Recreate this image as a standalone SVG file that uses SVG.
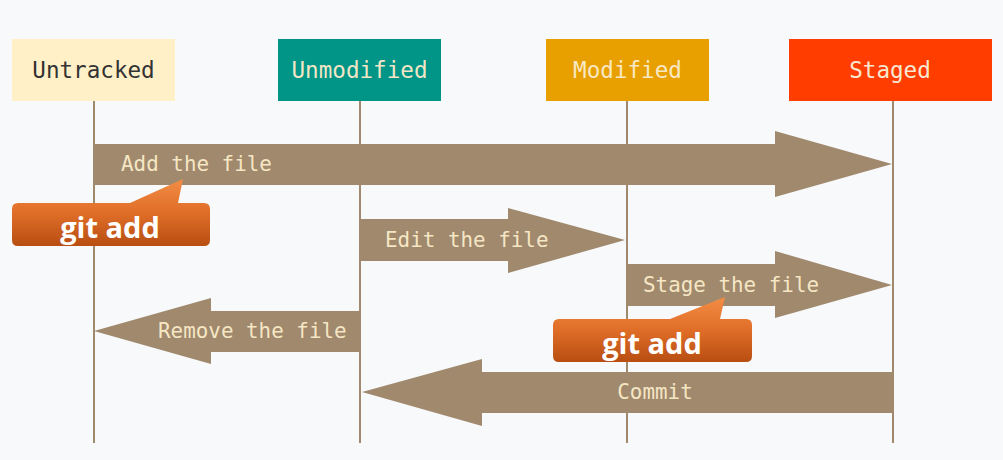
<svg xmlns="http://www.w3.org/2000/svg" width="1003" height="460" viewBox="0 0 1003 460">
<defs>
<linearGradient id="og" x1="0" y1="0" x2="0" y2="1">
<stop offset="0" stop-color="#F28D45"/>
<stop offset="0.5" stop-color="#E06E28"/>
<stop offset="1" stop-color="#B84E12"/>
</linearGradient>
<style>
.hdr{font-family:"DejaVu Sans Mono","Liberation Mono",monospace;font-size:22.6px;text-anchor:middle;dominant-baseline:central}
.lbl{font-family:"DejaVu Sans Mono","Liberation Mono",monospace;font-size:20.9px;fill:#F5E6C4;dominant-baseline:central}
.arrow{fill:#A0896D}
.life{stroke:#A0896D;stroke-width:2;fill:none}
.call{font-family:"Open Sans","Noto Sans",sans-serif;font-weight:bold;font-size:29px;fill:#FFFFFF;text-anchor:middle;dominant-baseline:central}
</style>
</defs>
<rect width="1003" height="460" fill="#F7F9FB"/>
<g id="lifelines">
<line class="life" x1="94" y1="101" x2="94" y2="443"/>
<line class="life" x1="360" y1="101" x2="360" y2="443"/>
<line class="life" x1="627" y1="101" x2="627" y2="443"/>
<line class="life" x1="893" y1="101" x2="893" y2="443"/>
</g>
<g id="untracked">
<rect x="12" y="39" width="163" height="62" fill="#FFF0C8"/>
<text class="hdr" x="93.5" y="70" fill="#333333">Untracked</text>
</g>
<g id="unmodified">
<rect x="278" y="39" width="163" height="62" fill="#009587"/>
<text class="hdr" x="359.5" y="70" fill="#F2E6C6">Unmodified</text>
</g>
<g id="modified">
<rect x="546" y="39" width="163" height="62" fill="#E8A000"/>
<text class="hdr" x="627.5" y="70" fill="#F8E8C4">Modified</text>
</g>
<g id="staged">
<rect x="789" y="39" width="203" height="62" fill="#FF3D00"/>
<text class="hdr" x="890" y="70" fill="#F8E8D0">Staged</text>
</g>
<g id="connectors">
<g id="add-file">
<polygon class="arrow" points="95,144 775,144 775,131 892,164 775,197 775,185 95,185"/>
<text class="lbl" x="121" y="164">Add the file</text>
</g>
<g id="edit-file">
<polygon class="arrow" points="361,219 508,219 508,208 625,240 508,273 508,261 361,261"/>
<text class="lbl" x="385" y="240">Edit the file</text>
</g>
<g id="stage-file">
<polygon class="arrow" points="628,264 775,264 775,251 892,285 775,318 775,306 628,306"/>
<text class="lbl" x="643" y="285">Stage the file</text>
</g>
<g id="remove-file">
<polygon class="arrow" points="359,311 211,311 211,298 94,331 211,364 211,352 359,352"/>
<text class="lbl" x="158" y="331">Remove the file</text>
</g>
<g id="commit">
<polygon class="arrow" points="892,372 482,372 482,359 362,392 482,426 482,413 892,413"/>
<text class="lbl" x="655" y="392" text-anchor="middle">Commit</text>
</g>
</g>
<g id="callout-1">
<path d="M18,203 L130,203 L183,179 L178,203 L204,203 Q210,203 210,209 L210,240 Q210,246 204,246 L18,246 Q12,246 12,240 L12,209 Q12,203 18,203 Z" fill="url(#og)"/>
<text class="call" x="110" y="226">git add</text>
</g>
<g id="callout-2">
<path d="M559,319 L670,319 L725,297 L720,319 L746,319 Q752,319 752,325 L752,356 Q752,362 746,362 L559,362 Q553,362 553,356 L553,325 Q553,319 559,319 Z" fill="url(#og)"/>
<text class="call" x="652" y="342">git add</text>
</g>
</svg>
